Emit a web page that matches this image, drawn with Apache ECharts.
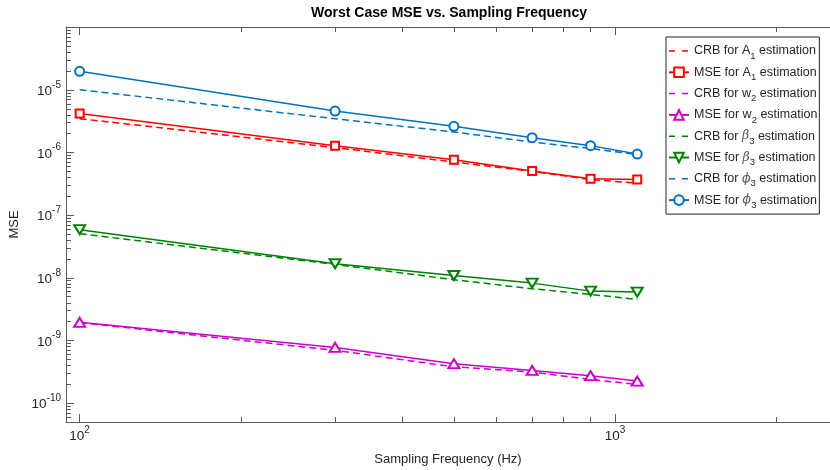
<!DOCTYPE html>
<html><head><meta charset="utf-8">
<script src="https://cdn.jsdelivr.net/npm/echarts@6/dist/echarts.min.js"></script>
<style>html,body{margin:0;padding:0;background:#fff}#c{width:830px;height:470px}</style>
</head><body><div id="c"></div>
<script>
// ---- data ----
const samplingFrequency = [100, 300, 500, 700, 900, 1100];
const crbA1  = [3.48e-6, 1.20e-6, 7.06e-7, 5.01e-7, 3.70e-7, 3.26e-7];
const mseA1  = [4.19e-6, 1.29e-6, 7.71e-7, 5.07e-7, 3.83e-7, 3.70e-7];
const crbW2  = [1.93e-9, 6.95e-10, 3.80e-10, 3.13e-10, 2.39e-10, 1.99e-10];
const mseW2  = [1.95e-9, 7.76e-10, 4.26e-10, 3.33e-10, 2.74e-10, 2.25e-10];
const crbB3  = [5.07e-8, 1.64e-8, 9.35e-9, 6.71e-9, 5.44e-9, 4.53e-9];
const mseB3  = [5.88e-8, 1.68e-8, 1.09e-8, 8.24e-9, 6.14e-9, 5.92e-9];
const crbP3  = [1.01e-5, 3.46e-6, 2.13e-6, 1.47e-6, 1.16e-6, 9.30e-7];
const mseP3  = [1.98e-5, 4.60e-6, 2.62e-6, 1.73e-6, 1.29e-6, 9.47e-7];

// ---- tick values ----
const xLabelValues = [100, 1000];
const xMinorValues = [200, 300, 400, 500, 600, 700, 800, 900, 2000];
const yLabelValues = [1e-10, 1e-9, 1e-8, 1e-7, 1e-6, 1e-5];
const yMajorValues = [1e-10, 1e-9, 1e-8, 1e-7, 1e-6, 1e-5, 1e-4];
const yMinorMantissas = [2, 3, 4, 5, 6, 7, 8, 9];
const yMinorDecades = [-11, -10, -9, -8, -7, -6, -5];

const X_MIN = 94.3, X_MAX = 2520, Y_MIN = 5e-11, Y_MAX = 1.01e-4;
const yMinorValues = [];
yMinorDecades.forEach(d => yMinorMantissas.forEach(m => {
  const v = m * Math.pow(10, d);
  if (v >= Y_MIN && v <= Y_MAX) yMinorValues.push(v);
}));

const TEXT = '#262626', AXIS = '#5a5a5a';
const FONT = 'Liberation Sans, Arial, Helvetica, sans-serif';

function pow10Label(v) {
  const e = Math.round(Math.log10(v));
  return '{b|10}{e|' + e + '}';
}
const powRich = {
  b: {fontSize: 13.5, lineHeight: 14, padding: [3, 0, 0, 0], color: TEXT, fontFamily: FONT},
  e: {fontSize: 10, lineHeight: 10, padding: [0, 0, 10, 0], color: TEXT, fontFamily: FONT}
};

function xAxisDef(position, ticks, len, withLabels, withLine) {
  return {
    type: 'log', logBase: 10, min: X_MIN, max: X_MAX, position: position,
    axisLine: {show: withLine, onZero: false, lineStyle: {color: AXIS, width: 1}},
    axisTick: {show: true, inside: true, length: len, customValues: ticks, lineStyle: {color: AXIS, width: 1}},
    axisLabel: withLabels ? {show: true, customValues: xLabelValues, formatter: pow10Label, rich: powRich, margin: 6} : {show: false},
    splitLine: {show: false}, minorTick: {show: false}, minorSplitLine: {show: false},
    name: withLabels ? 'Sampling Frequency (Hz)' : '',
    nameLocation: 'middle', nameGap: 31,
    nameTextStyle: {fontSize: 13, color: TEXT, fontFamily: FONT}
  };
}
function yAxisDef(ticks, len, withLabels, withLine) {
  return {
    type: 'log', logBase: 10, min: Y_MIN, max: Y_MAX, position: 'left',
    axisLine: {show: withLine, onZero: false, lineStyle: {color: AXIS, width: 1}},
    axisTick: {show: true, inside: true, length: len, customValues: ticks, lineStyle: {color: AXIS, width: 1}},
    axisLabel: withLabels ? {show: true, customValues: yLabelValues, formatter: pow10Label, rich: powRich, margin: 5} : {show: false},
    splitLine: {show: false}, minorTick: {show: false}, minorSplitLine: {show: false},
    name: withLabels ? 'MSE' : '',
    nameLocation: 'middle', nameGap: 41,
    nameTextStyle: {fontSize: 13, color: TEXT, fontFamily: FONT}
  };
}

function series(name, values, color, dashed, symbol, rotate, size) {
  return {
    type: 'line', name: name,
    xAxisIndex: 0, yAxisIndex: 0,
    data: samplingFrequency.map((x, i) => [x, values[i]]),
    symbol: dashed ? 'none' : symbol,
    showSymbol: !dashed,
    symbolSize: size || 9,
    symbolRotate: rotate || 0,
    lineStyle: {color: color, width: 1.5, type: dashed ? [7, 4] : 'solid'},
    itemStyle: {color: color, borderColor: color, borderWidth: 1.5},
    emphasis: {disabled: true},
    silent: true, z: 2
  };
}

const RED = '#ff0000', MAG = '#cc00cc', GRN = '#008000', BLU = '#0072bd';
const legendNames = [
  'CRB for A1 estimation', 'MSE for A1 estimation',
  'CRB for w2 estimation', 'MSE for w2 estimation',
  'CRB for β3 estimation', 'MSE for β3 estimation',
  'CRB for ϕ3 estimation', 'MSE for ϕ3 estimation'
];
const legendRichText = [
  '{t|CRB for A}{s|1}{t| estimation}', '{t|MSE for A}{s|1}{t| estimation}',
  '{t|CRB for w}{s|2}{t| estimation}', '{t|MSE for w}{s|2}{t| estimation}',
  '{t|CRB for }{g|β}{s|3}{t| estimation}', '{t|MSE for }{g|β}{s|3}{t| estimation}',
  '{t|CRB for }{g|ϕ}{s|3}{t| estimation}', '{t|MSE for }{g|ϕ}{s|3}{t| estimation}'
];

const chart = echarts.init(document.getElementById('c'), null, {renderer: 'canvas'});
chart.setOption({
  animation: false,
  backgroundColor: '#ffffff',
  textStyle: {fontFamily: FONT},
  title: {
    text: 'Worst Case MSE vs. Sampling Frequency',
    left: 449, top: 6, padding: 0, textAlign: 'center',
    textStyle: {fontSize: 14, fontWeight: 'bold', color: '#000', fontFamily: FONT}
  },
  grid: {left: 66, top: 27, right: 0, bottom: 48, containLabel: false, outerBoundsMode: 'none'},
  xAxis: [
    xAxisDef('bottom', xLabelValues, 8, true, true),
    xAxisDef('bottom', xMinorValues, 5, false, false),
    xAxisDef('top', xLabelValues, 8, false, true),
    xAxisDef('top', xMinorValues, 5, false, false)
  ],
  yAxis: [
    yAxisDef(yMajorValues, 8, true, true),
    yAxisDef(yMinorValues, 5, false, false)
  ],
  legend: {
    orient: 'vertical', left: 666, top: 37,
    padding: [4, 2, 4, 2], itemGap: 1.3,
    itemWidth: 20, itemHeight: 12,
    borderColor: '#262626', borderWidth: 1, backgroundColor: '#ffffff',
    selectedMode: false,
    data: legendNames.map((n, i) => i % 2 === 0
      ? {name: n, itemStyle: {opacity: 0}, lineStyle: {type: [6, 7], width: 1.5}}
      : {name: n}),
    formatter: name => legendRichText[legendNames.indexOf(name)],
    textStyle: {
      fontSize: 12.5, color: TEXT, fontFamily: FONT,
      rich: {
        t: {fontSize: 12.5, lineHeight: 14, color: TEXT, fontFamily: FONT},
        g: {fontSize: 12.5, lineHeight: 14, color: '#555', fontStyle: 'italic', fontFamily: 'DejaVu Serif, serif'},
        s: {fontSize: 9.5, lineHeight: 10, padding: [10, 0, 0, 0], color: TEXT, fontFamily: FONT}
      }
    }
  },
  series: [
    series(legendNames[0], crbA1, RED, true),
    series(legendNames[1], mseA1, RED, false, 'emptyRect', 0, 8),
    series(legendNames[2], crbW2, MAG, true),
    series(legendNames[3], mseW2, MAG, false, 'emptyTriangle', 0, [11, 9]),
    series(legendNames[4], crbB3, GRN, true),
    series(legendNames[5], mseB3, GRN, false, 'emptyTriangle', 180, [11, 9]),
    series(legendNames[6], crbP3, BLU, true),
    series(legendNames[7], mseP3, BLU, false, 'emptyCircle', 0, 9)
  ]
});
</script>
</body></html>
